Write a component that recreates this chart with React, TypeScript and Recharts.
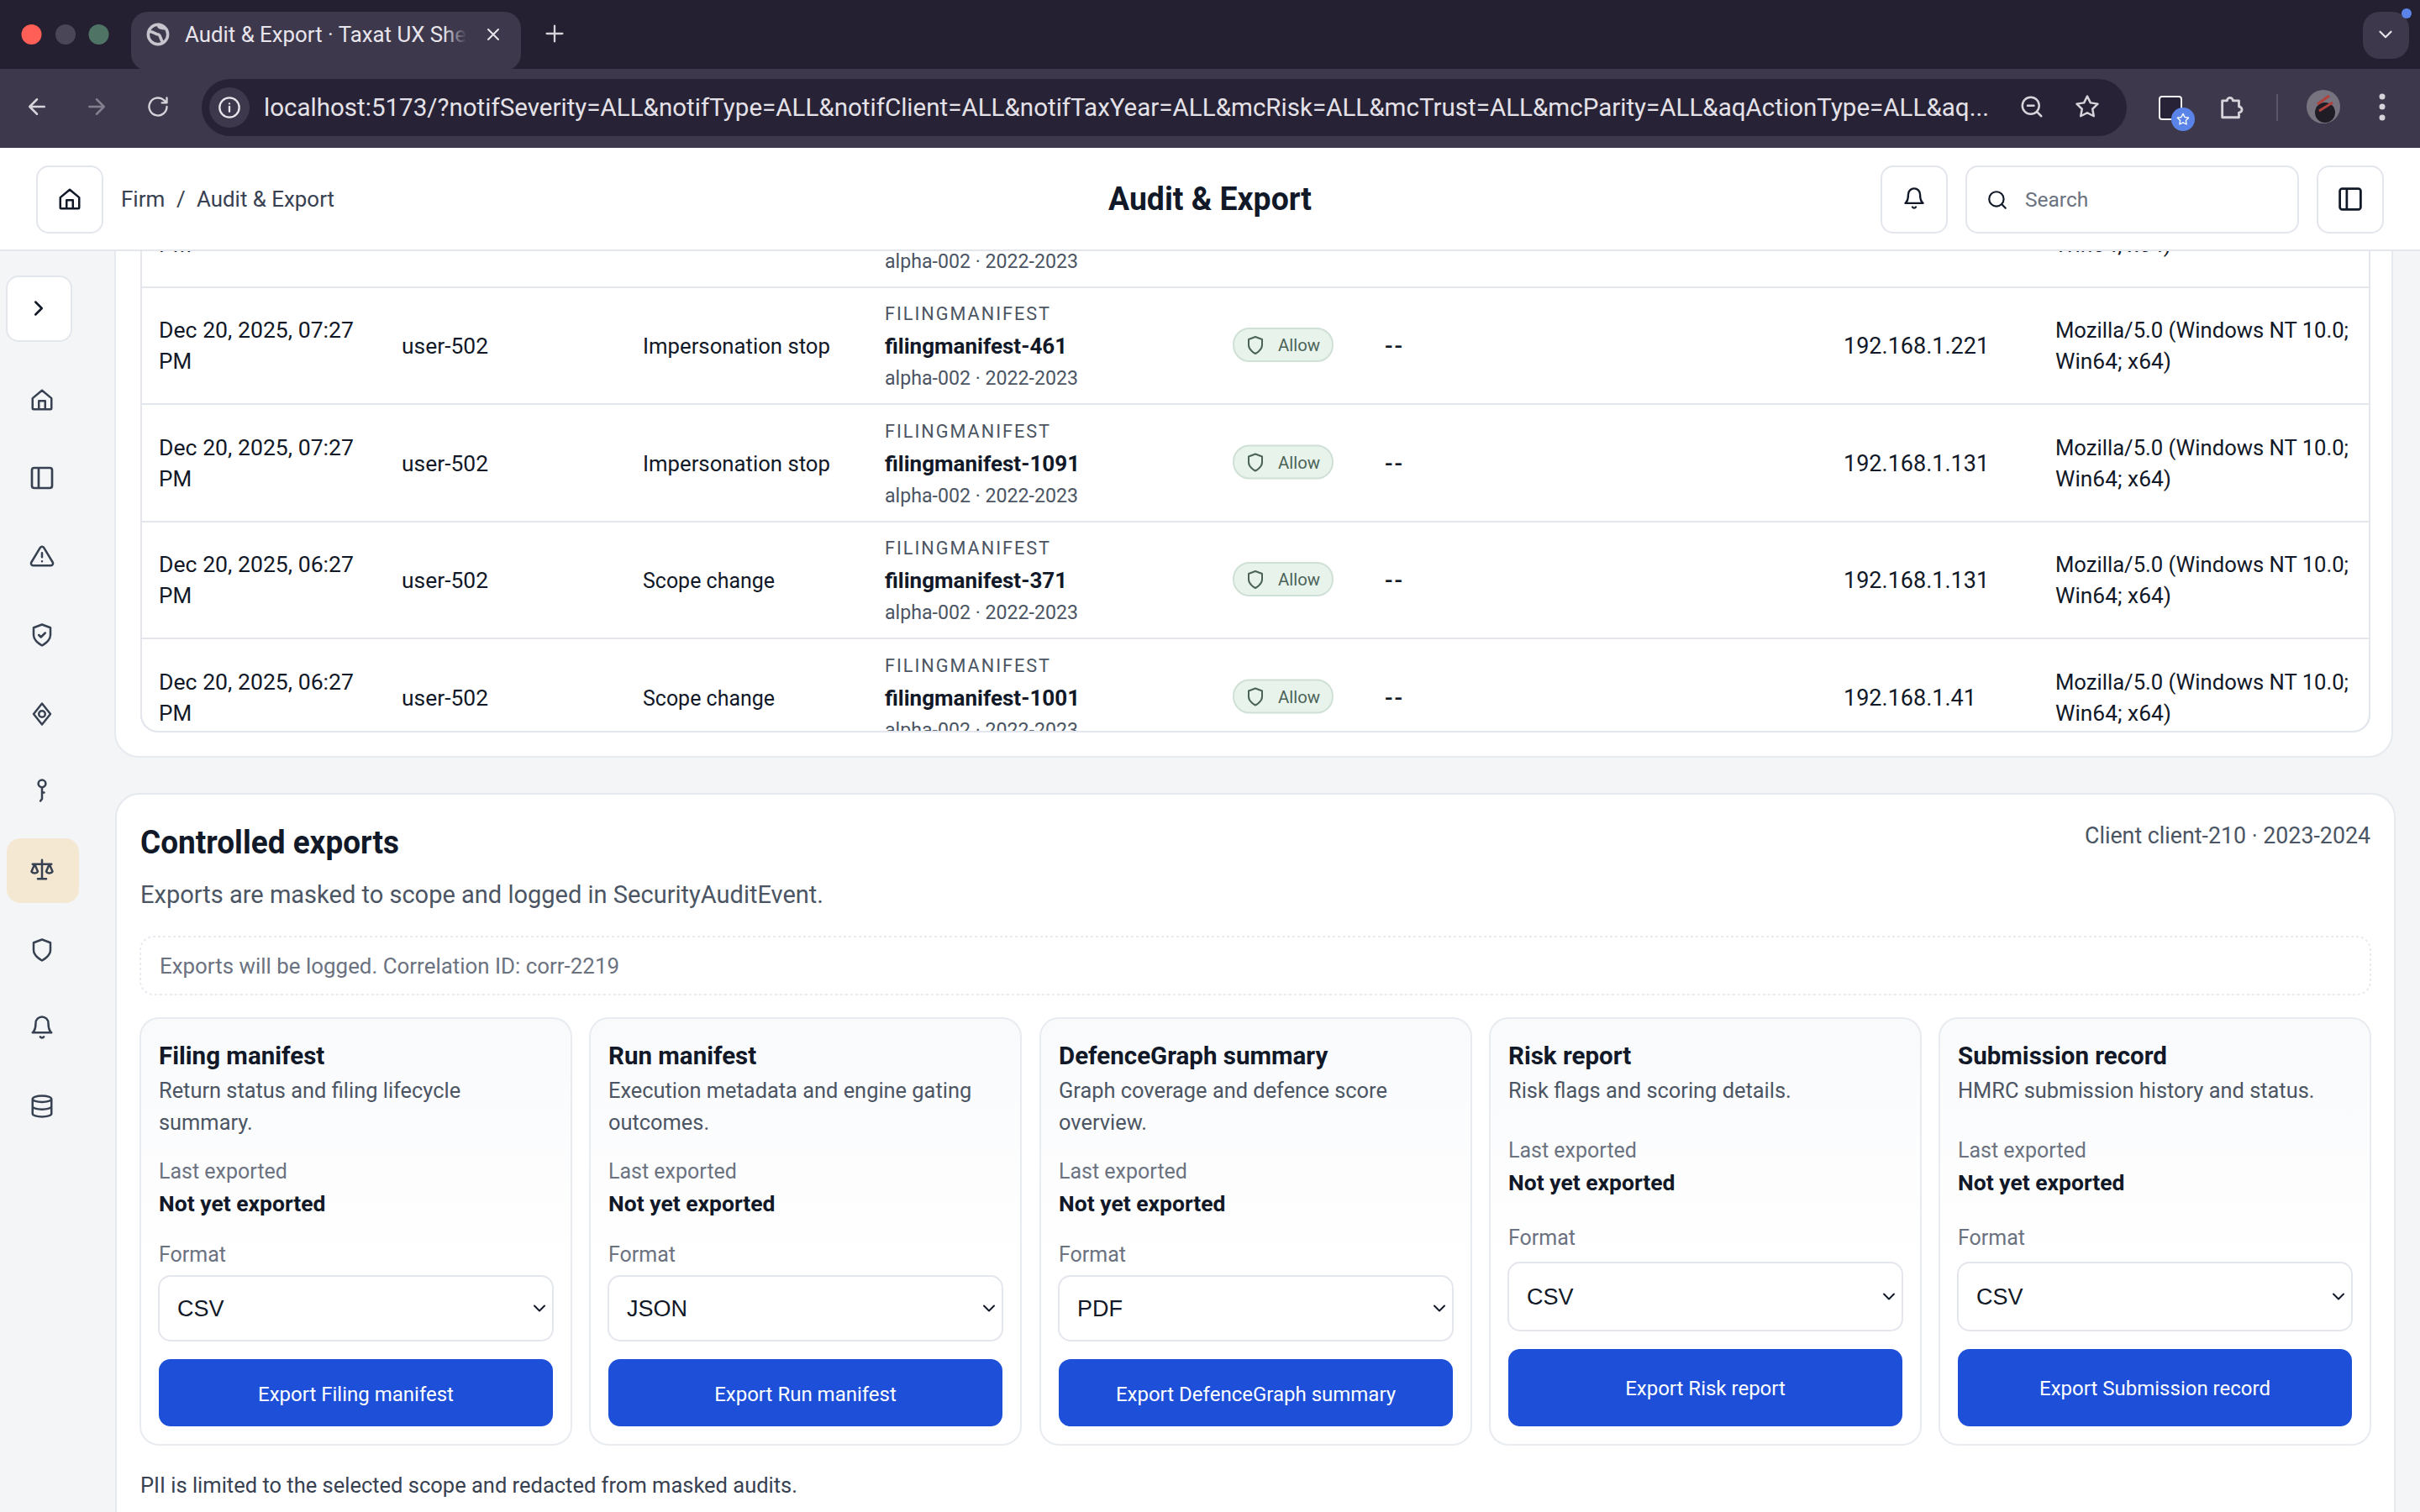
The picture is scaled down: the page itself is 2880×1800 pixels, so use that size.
import { Layer, Rectangle, Surface } from 'recharts'

const UI = 'Roboto, sans-serif'
const INK = '#111827'
const SLATE = '#4b5563'
const MUTED = '#6b7280'
const LINE = '#e3e6ec'

const URL_TEXT =
  'localhost:5173/?notifSeverity=ALL&notifType=ALL&notifClient=ALL&notifTaxYear=ALL&mcRisk=ALL&mcTrust=ALL&mcParity=ALL&aqActionType=ALL&aq...'

const rowDates = ['Dec 20, 2025, 07:27', 'Dec 20, 2025, 07:27', 'Dec 20, 2025, 06:27', 'Dec 20, 2025, 06:27']
const rowActions = ['Impersonation stop', 'Impersonation stop', 'Scope change', 'Scope change']
const rowNames = ['filingmanifest-461', 'filingmanifest-1091', 'filingmanifest-371', 'filingmanifest-1001']
const rowIps = ['192.168.1.221', '192.168.1.131', '192.168.1.131', '192.168.1.41']

const cardTitles = ['Filing manifest', 'Run manifest', 'DefenceGraph summary', 'Risk report', 'Submission record']
const cardDescs = [
  ['Return status and filing lifecycle', 'summary.'],
  ['Execution metadata and engine gating', 'outcomes.'],
  ['Graph coverage and defence score', 'overview.'],
  ['Risk flags and scoring details.'],
  ['HMRC submission history and status.'],
]
const cardFormats = ['CSV', 'JSON', 'PDF', 'CSV', 'CSV']
const cardLefts = [167, 702, 1238, 1773, 2308]

const sideIcons: [string, number][] = [
  ['home', 476], ['panel', 569], ['alert', 662], ['shieldCheck', 756], ['diamond', 850],
  ['key', 941], ['scales', 1035], ['shield', 1131], ['bell', 1223], ['db', 1317],
]

const ICONS: Record<string, string> = {
  home: 'M3 10.5 12 3l9 7.5V20a1 1 0 0 1-1 1H4a1 1 0 0 1-1-1z M9 21v-8h6v8',
  panel: 'M5 3h14a2 2 0 0 1 2 2v14a2 2 0 0 1-2 2H5a2 2 0 0 1-2-2V5a2 2 0 0 1 2-2z M9 3v18',
  alert: 'M10.3 3.9 1.8 18a2 2 0 0 0 1.7 3h17a2 2 0 0 0 1.7-3L13.7 3.9a2 2 0 0 0-3.4 0z M12 9v4 M12 17h.01',
  shield: 'M12 22s8-4 8-10V5l-8-3-8 3v7c0 6 8 10 8 10z',
  shieldCheck: 'M12 22s8-4 8-10V5l-8-3-8 3v7c0 6 8 10 8 10z M9 12l2 2 4-4',
  diamond: 'M12 2 20 12 12 22 4 12z M12 9a3 3 0 1 0 0 6 3 3 0 0 0 0-6z',
  key: 'M12 2a3.5 3.5 0 1 0 0 7 3.5 3.5 0 0 0 0-7z M12 9v11l-1.5 2 M12 14h2',
  scales: 'M12 3v18 M8 21h8 M3 7h18 M5 7l-3 7a3.5 3.5 0 0 0 6 0z M19 7l-3 7a3.5 3.5 0 0 0 6 0z',
  bell: 'M6 8a6 6 0 0 1 12 0c0 7 3 9 3 9H3s3-2 3-9 M10.3 21a2 2 0 0 0 3.4 0',
  db: 'M3 5a9 3 0 1 0 18 0 9 3 0 1 0-18 0 M3 5v14a9 3 0 0 0 18 0V5 M3 12a9 3 0 0 0 18 0',
  search: 'M11 3a8 8 0 1 0 0 16 8 8 0 0 0 0-16z M21 21l-4.3-4.3',
  right: 'M9 18l6-6-6-6',
  down: 'M6 9l6 6 6-6',
  back: 'M19 12H5 M12 19l-7-7 7-7',
  forward: 'M5 12h14 M12 5l7 7-7 7',
  reload: 'M21 12a9 9 0 1 1-3-6.7L21 8 M21 3v5h-5',
  info: 'M12 2a10 10 0 1 0 0 20 10 10 0 0 0 0-20z M12 16v-5 M12 8h.01',
  close: 'M6 6l12 12 M18 6 6 18',
  plus: 'M12 4v16 M4 12h16',
  zoom: 'M11 3a8 8 0 1 0 0 16 8 8 0 0 0 0-16z M21 21l-4.3-4.3 M8 11h6',
  star: 'M12 2l3.1 6.3 6.9 1-5 4.9 1.2 6.8-6.2-3.2-6.2 3.2L7 14.2 2 9.3l6.9-1z',
  puzzle: 'M4 7h4a2.5 2.5 0 0 1 5 0h5v5a2.5 2.5 0 0 1 0 5v4H4z',
  globe: 'M12 2a10 10 0 1 0 0 20 10 10 0 0 0 0-20z M3 9c5 0 6 3 9 3s2 5 5 8 M13 2c-2 3 3 4 7 4',
}

function Icon({ name, x, y, size, color, width = 2 }: { name: string; x: number; y: number; size: number; color: string; width?: number }) {
  const k = size / 24
  return (
    <path
      d={ICONS[name]}
      transform={`translate(${x - size / 2} ${y - size / 2}) scale(${k})`}
      fill="none"
      stroke={color}
      strokeWidth={width}
      strokeLinecap="round"
      strokeLinejoin="round"
    />
  )
}

interface TextProps {
  x: number
  y: number
  size: number
  color?: string
  weight?: number
  anchor?: 'start' | 'middle' | 'end'
  family?: string
  spacing?: number
  len?: number
  children: string
}

function T({ x, y, size, color = INK, weight = 400, anchor = 'start', family = UI, spacing, len, children }: TextProps) {
  return (
    <text
      x={x}
      y={y}
      fontSize={size}
      fill={color}
      fontWeight={weight}
      textAnchor={anchor}
      fontFamily={family}
      letterSpacing={spacing}
      textLength={len}
      lengthAdjust={len ? 'spacingAndGlyphs' : undefined}
    >
      {children}
    </text>
  )
}

function Box({ x, y, x2, y2, r = 14, fill = '#ffffff', stroke = LINE, dash }: { x: number; y: number; x2: number; y2: number; r?: number; fill?: string; stroke?: string; dash?: string }) {
  return <Rectangle x={x} y={y} width={x2 - x} height={y2 - y} radius={r} fill={fill} stroke={stroke} strokeWidth={stroke === 'none' ? 0 : 2} strokeDasharray={dash} />
}

function BrowserChrome() {
  return (
    <Layer>
      <rect x={0} y={0} width={2880} height={82} fill="#241f31" />
      <rect x={0} y={82} width={2880} height={94} fill="#3e384c" />
      <Box x={156} y={14} x2={620} y2={84} r={20} fill="#3e384c" stroke="none" />
      <circle cx={37.5} cy={41} r={12} fill="#ff5f57" />
      <circle cx={78} cy={41} r={12} fill="#4a4557" />
      <circle cx={117.5} cy={41} r={12} fill="#4f7465" />
      <Icon name="globe" x={188} y={41} size={28} color="#c6c4cc" width={3} />
      <T x={220} y={50} size={26} color="#e8e6ec" len={335}>Audit &amp; Export · Taxat UX She</T>
      <rect x={528} y={20} width={34} height={50} fill="url(#tabFade)" />
      <Icon name="close" x={587} y={41} size={24} color="#e8e6ec" />
      <Icon name="plus" x={660} y={40} size={28} color="#d6d4da" />
      <Box x={2812} y={14} x2={2867} y2={70} r={20} fill="#3e384c" stroke="none" />
      <Icon name="down" x={2839} y={41} size={26} color="#e8e6ec" />
      <circle cx={2864} cy={16} r={6} fill="#5b84e8" />

      <Icon name="back" x={44} y={127} size={30} color="#d6d4da" />
      <Icon name="forward" x={115} y={127} size={30} color="#837f8e" />
      <Icon name="reload" x={188} y={127} size={28} color="#d6d4da" />
      <Box x={240} y={94} x2={2531} y2={162} r={34} fill="#282236" stroke="none" />
      <circle cx={273} cy={128} r={24} fill="#3e384c" />
      <Icon name="info" x={273} y={128} size={28} color="#e8e6ec" />
      <T x={314} y={138} size={30} color="#e4e2e8" len={2053}>{URL_TEXT}</T>
      <Icon name="zoom" x={2418} y={127} size={30} color="#d6d4da" />
      <Icon name="star" x={2484} y={127} size={30} color="#d6d4da" />
      <Box x={2570} y={115} x2={2596} y2={142} r={3} fill="#282236" stroke="#f2f2f4" />
      <circle cx={2598} cy={142} r={14} fill="#5b84e8" />
      <Icon name="star" x={2598} y={142} size={16} color="#ffffff" />
      <Icon name="puzzle" x={2656} y={127} size={34} color="#d6d4da" />
      <rect x={2709} y={112} width={2} height={32} fill="#5a5567" />
      <circle cx={2765} cy={127} r={20} fill="#77737f" />
      <circle cx={2767} cy={134} r={12} fill="#1f1c26" />
      <path d="M2758 124 L2772 114 M2760 132 L2776 122" stroke="#b3403a" strokeWidth={3} />
      <circle cx={2835} cy={115} r={3.5} fill="#d6d4da" />
      <circle cx={2835} cy={127} r={3.5} fill="#d6d4da" />
      <circle cx={2835} cy={140} r={3.5} fill="#d6d4da" />
    </Layer>
  )
}

function Header() {
  return (
    <Layer>
      <rect x={0} y={176} width={2880} height={122} fill="#ffffff" />
      <rect x={0} y={297} width={2880} height={2} fill={LINE} />
      <Box x={44} y={198} x2={122} y2={277} />
      <Icon name="home" x={83} y={237} size={30} color={INK} />
      <T x={144} y={246} size={26} color="#374151">Firm</T>
      <T x={210} y={246} size={26} color="#374151">/</T>
      <T x={234} y={246} size={26} color="#374151" len={164}>Audit &amp; Export</T>
      <T x={1440} y={250} size={38} weight={700} anchor="middle" len={242}>Audit &amp; Export</T>
      <Box x={2239} y={198} x2={2317} y2={277} />
      <Icon name="bell" x={2278} y={236} size={28} color={INK} />
      <Box x={2340} y={198} x2={2735} y2={277} />
      <Icon name="search" x={2377} y={238} size={26} color={INK} />
      <T x={2410} y={246} size={24.5} color={MUTED}>Search</T>
      <Box x={2758} y={198} x2={2836} y2={277} />
      <Icon name="panel" x={2797} y={237} size={33} color={INK} />
    </Layer>
  )
}

function Sidebar() {
  return (
    <Layer>
      <Box x={8} y={329} x2={85} y2={406} />
      <Icon name="right" x={46} y={367} size={30} color={INK} />
      <Box x={8} y={998} x2={94} y2={1075} r={16} fill="#f5e8d3" stroke="none" />
      {sideIcons.map(([name, y]) => (
        <Icon key={name} name={name} x={50} y={y} size={name === 'panel' ? 32 : 30} color="#374151" />
      ))}
    </Layer>
  )
}

function AuditRow({ index }: { index: number }) {
  const dy = index * 139.5
  return (
    <Layer>
      <T x={189} y={402 + dy} size={26} len={232}>{rowDates[index]}</T>
      <T x={189} y={439 + dy} size={26}>PM</T>
      <T x={478} y={421 + dy} size={26} len={103}>user-502</T>
      <T x={765} y={421 + dy} size={26} len={rowActions[index].length > 13 ? 223 : 157}>{rowActions[index]}</T>
      <T x={1053} y={381 + dy} size={22} color={SLATE} spacing={2} len={198}>FILINGMANIFEST</T>
      <T x={1053} y={421 + dy} size={26} weight={700}>{rowNames[index]}</T>
      <T x={1053} y={458 + dy} size={23} color={SLATE} len={230}>alpha-002 · 2022-2023</T>
      <Box x={1468} y={391 + dy} x2={1586} y2={430 + dy} r={19} fill="#e8f3ec" stroke="#cfe0d6" />
      <Icon name="shield" x={1494} y={411 + dy} size={24} color="#4b6358" />
      <T x={1521} y={418 + dy} size={21} color="#4b6358" len={50}>Allow</T>
      <T x={1648} y={421 + dy} size={28} spacing={2} weight={500}>--</T>
      <T x={2194} y={421 + dy} size={27}>{rowIps[index]}</T>
      <T x={2446} y={402 + dy} size={26} len={349}>Mozilla/5.0 (Windows NT 10.0;</T>
      <T x={2446} y={439 + dy} size={26} len={138}>Win64; x64)</T>
    </Layer>
  )
}

function AuditCard() {
  return (
    <Layer>
      <Box x={137} y={200} x2={2847} y2={901} r={28} stroke="#e6e9ee" />
      <Box x={168} y={200} x2={2820} y2={871} r={20} />
      {[342, 481, 621, 760].map((y) => (
        <rect key={y} x={168} y={y - 1} width={2652} height={2} fill={LINE} />
      ))}
      {/* tail of the row scrolled under the header */}
      <T x={189} y={300} size={26}>PM</T>
      <T x={1053} y={319} size={23} color={SLATE} len={230}>alpha-002 · 2022-2023</T>
      <T x={2446} y={300} size={26} len={138}>Win64; x64)</T>
      {rowDates.map((_, i) => (
        <AuditRow key={i} index={i} />
      ))}
      <rect x={168} y={872} width={2652} height={24} fill="#ffffff" />
      <Box x={168} y={200} x2={2820} y2={871} r={20} fill="none" />
    </Layer>
  )
}

function ExportCard({ index }: { index: number }) {
  const left = cardLefts[index]
  const x = left + 22
  const two = cardDescs[index].length > 1
  const right = left + 491
  const selTop = two ? 1519 : 1503
  const selBottom = two ? 1596 : 1584
  const btnTop = two ? 1618 : 1606
  return (
    <Layer>
      <Box x={left} y={1212} x2={left + 513} y2={1720} r={22} fill="url(#cardFill)" stroke="#e8ebf0" />
      <T x={x} y={1267} size={29.5} weight={700}>{cardTitles[index]}</T>
      {cardDescs[index].map((line, i) => (
        <T key={line} x={x} y={1307 + i * 38} size={25.4} color={SLATE}>{line}</T>
      ))}
      <T x={x} y={two ? 1403 : 1378} size={25} color={MUTED}>Last exported</T>
      <T x={x} y={two ? 1442 : 1417} size={26.5} weight={700}>Not yet exported</T>
      <T x={x} y={two ? 1502 : 1482} size={25} color={MUTED}>Format</T>
      <Box x={x} y={selTop} x2={right} y2={selBottom} />
      <T x={x + 22} y={two ? 1567 : 1553} size={27} family="'Liberation Sans', sans-serif">{cardFormats[index]}</T>
      <Icon name="down" x={right - 16} y={(selTop + selBottom) / 2} size={24} color={INK} />
      <Box x={x} y={btnTop} x2={right} y2={1698} fill="#1d4fd8" stroke="none" />
      <T x={(x + right) / 2} y={two ? 1668 : 1661} size={24} color="#ffffff" weight={400} anchor="middle">{`Export ${cardTitles[index]}`}</T>
    </Layer>
  )
}

function ExportsPanel() {
  return (
    <Layer>
      <Box x={138} y={945} x2={2850} y2={1830} r={28} stroke="#e6e9ee" />
      <T x={167} y={1016} size={38} weight={700} len={308}>Controlled exports</T>
      <T x={2821} y={1004} size={27} color={SLATE} anchor="end" len={340}>Client client-210 · 2023-2024</T>
      <T x={167} y={1075} size={30} color={SLATE} len={813}>Exports are masked to scope and logged in SecurityAuditEvent.</T>
      <Box x={167} y={1115} x2={2821} y2={1184} r={16} fill="#ffffff" stroke="#e8ebf0" dash="3 3" />
      <T x={190} y={1159} size={26} color={MUTED} len={547}>Exports will be logged. Correlation ID: corr-2219</T>
      {cardTitles.map((_, i) => (
        <ExportCard key={i} index={i} />
      ))}
      <T x={167} y={1777} size={26} color="#374151" len={782}>PII is limited to the selected scope and redacted from masked audits.</T>
    </Layer>
  )
}

export default function App() {
  return (
    <div style={{ position: 'absolute', left: 0, top: 0, width: 2880, height: 1800, overflow: 'hidden' }}>
      <Surface width={2880} height={1800} viewBox={{ x: 0, y: 0, width: 2880, height: 1800 }}>
        <defs>
          <linearGradient id="tabFade" x1="0" x2="1" y1="0" y2="0">
            <stop offset="0" stopColor="#3e384c" stopOpacity={0} />
            <stop offset="0.8" stopColor="#3e384c" />
          </linearGradient>
          <linearGradient id="cardFill" x1="0" x2="0" y1="0" y2="1">
            <stop offset="0" stopColor="#f9fafc" />
            <stop offset="0.6" stopColor="#ffffff" />
          </linearGradient>
        </defs>
        <rect x={0} y={0} width={2880} height={1800} fill="#f3f5f7" />
        <AuditCard />
        <ExportsPanel />
        <Sidebar />
        <Header />
        <BrowserChrome />
      </Surface>
    </div>
  )
}
